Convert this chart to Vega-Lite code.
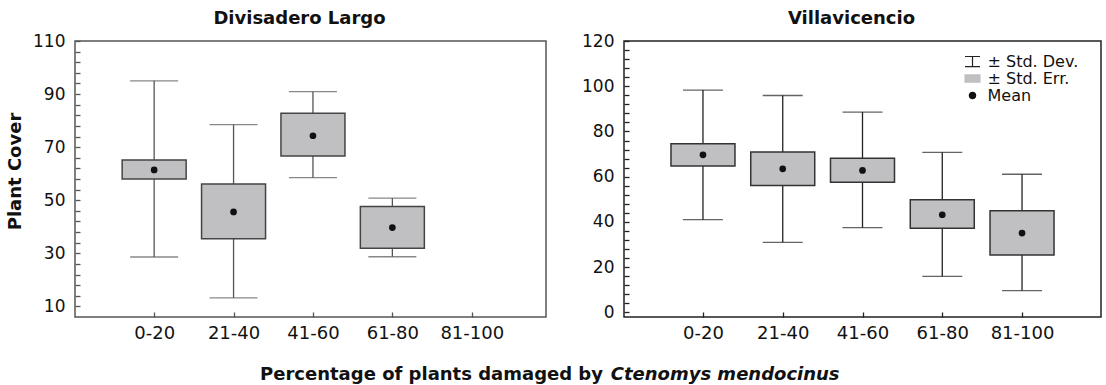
{
  "$schema": "https://vega.github.io/schema/vega-lite/v6.json",
  "background": "white",
  "padding": {"left": 5, "top": 9, "right": 2, "bottom": 2},
  "bounds": "flush",
  "spacing": 78,
  "config": {
    "font": "DejaVu Sans",
    "view": {"strokeWidth": 1.5},
    "axis": {"labelFont": "DejaVu Sans", "labelFontSize": 17, "labelColor": "#111", "titleFont": "DejaVu Sans", "titleColor": "#111", "grid": false, "domain": false, "ticks": true, "tickSize": 5, "offset": -5, "tickWidth": 1.3, "tickOpacity": 1, "labelFlush": false, "labelOverlap": false, "labelBound": false},
    "title": {"font": "DejaVu Sans", "fontSize": 18, "fontWeight": "bold", "color": "#111"}
  },
  "datasets": {
    "dl": [
      {"cat": "0-20", "sdlo": 28.6, "selo": 58.0, "mean": 61.4, "sehi": 65.2, "sdhi": 95.0},
      {"cat": "21-40", "sdlo": 13.2, "selo": 35.5, "mean": 45.6, "sehi": 56.1, "sdhi": 78.5},
      {"cat": "41-60", "sdlo": 58.5, "selo": 66.7, "mean": 74.3, "sehi": 82.8, "sdhi": 90.9},
      {"cat": "61-80", "sdlo": 28.7, "selo": 31.9, "mean": 39.7, "sehi": 47.6, "sdhi": 50.8}
    ],
    "vi": [
      {"cat": "0-20", "sdlo": 41.0, "selo": 64.7, "mean": 69.7, "sehi": 74.6, "sdhi": 98.3},
      {"cat": "21-40", "sdlo": 31.0, "selo": 56.1, "mean": 63.5, "sehi": 70.9, "sdhi": 95.9},
      {"cat": "41-60", "sdlo": 37.5, "selo": 57.6, "mean": 62.8, "sehi": 68.2, "sdhi": 88.6},
      {"cat": "61-80", "sdlo": 16.0, "selo": 37.2, "mean": 43.2, "sehi": 49.8, "sdhi": 70.8},
      {"cat": "81-100", "sdlo": 9.7, "selo": 25.4, "mean": 35.1, "sehi": 45.0, "sdhi": 61.1}
    ]
  },
  "resolve": {"scale": {"color": "independent", "x": "independent", "y": "independent"}, "legend": {"color": "independent"}},
  "hconcat": [
    {
      "width": 471,
      "height": 276,
      "title": {"text": "Divisadero Largo", "dx": -11},
      "view": {"stroke": "#555", "strokeWidth": 1.5},
      "data": {"name": "dl"},
      "encoding": {
        "x": {
          "field": "cat", "type": "ordinal",
          "scale": {"type": "point", "domain": ["0-20", "21-40", "41-60", "61-80", "81-100"], "padding": 0.966, "align": 0.516},
          "axis": {"labelAngle": 0, "labelFontSize": 18, "labelPadding": 7.5, "tickColor": "#555", "labelOverlap": false, "title": "Percentage of plants damaged by", "titleFontSize": 18, "titleFontWeight": "bold", "titleAlign": "right", "titleAnchor": "start", "titleX": 527.5, "titleY": 67.5, "titleBaseline": "alphabetic"}
        }
      },
      "layer": [
        {
          "mark": {"type": "rule", "strokeWidth": 1.3},
          "encoding": {
            "y": {"field": "sdlo", "type": "quantitative",
              "scale": {"domain": [6, 110], "nice": false, "zero": false},
              "axis": {"values": [10, 14, 18, 22, 26, 30, 34, 38, 42, 46, 50, 54, 58, 62, 66, 70, 74, 78, 82, 86, 90, 94, 98, 102, 106, 110], "tickCount": 200, "format": "d", "labelExpr": "(datum.value - 10) % 20 === 0 ? datum.label : ''", "labelFontSize": {"condition": {"test": "(datum.value - 10) % 20 === 0", "value": 17}, "value": 0}, "labelOverlap": false, "labelPadding": 10, "tickColor": "#555", "title": "Plant Cover", "titleFontSize": 18, "titleFontWeight": "bold", "titleX": -64.5, "titleY": 130, "titleBaseline": "middle", "titleAnchor": "start", "titleAlign": "center"}},
            "y2": {"field": "sdhi"},
            "color": {"datum": "± Std. Dev.", "legend": null, "scale": {"domain": ["± Std. Dev.", "± Std. Err.", "Mean"], "range": ["#555", "#c0c0c2", "#111"]}}
          }
        },
        {
          "mark": {"type": "tick", "size": 48, "thickness": 1.3, "color": "#555"},
          "encoding": {"y": {"field": "sdhi", "type": "quantitative"}}
        },
        {
          "mark": {"type": "tick", "size": 48, "thickness": 1.3, "color": "#555"},
          "encoding": {"y": {"field": "sdlo", "type": "quantitative"}}
        },
        {
          "mark": {"type": "bar", "size": 64, "stroke": "#444", "strokeWidth": 1.5},
          "encoding": {
            "y": {"field": "selo", "type": "quantitative"},
            "y2": {"field": "sehi"},
            "color": {"datum": "± Std. Err.", "legend": null}
          }
        },
        {
          "mark": {"type": "point", "filled": true, "size": 45, "opacity": 1},
          "encoding": {
            "y": {"field": "mean", "type": "quantitative"},
            "color": {"datum": "Mean", "legend": null}
          }
        }
      ]
    },
    {
      "width": 477,
      "height": 276,
      "title": {"text": "Villavicencio", "dx": -11},
      "view": {"stroke": "#222", "strokeWidth": 1.5},
      "data": {"name": "vi"},
      "encoding": {
        "x": {
          "field": "cat", "type": "ordinal",
          "scale": {"type": "point", "domain": ["0-20", "21-40", "41-60", "61-80", "81-100"], "padding": 0.99},
          "axis": {"labelAngle": 0, "labelFontSize": 18, "labelPadding": 7.5, "tickColor": "#222", "labelOverlap": false, "title": "Ctenomys mendocinus", "titleFontSize": 18, "titleFontWeight": "bold", "titleFontStyle": "italic", "titleAlign": "left", "titleAnchor": "start", "titleX": -13.8, "titleY": 67.5, "titleBaseline": "alphabetic"}
        }
      },
      "layer": [
        {
          "mark": {"type": "rule", "strokeWidth": 1.3},
          "encoding": {
            "y": {"field": "sdlo", "type": "quantitative",
              "scale": {"domain": [-2, 120], "nice": false, "zero": false},
              "axis": {"values": [0, 4, 8, 12, 16, 20, 24, 28, 32, 36, 40, 44, 48, 52, 56, 60, 64, 68, 72, 76, 80, 84, 88, 92, 96, 100, 104, 108, 112, 116, 120], "tickCount": 200, "format": "d", "labelExpr": "datum.value % 20 === 0 ? datum.label : ''", "labelFontSize": {"condition": {"test": "datum.value % 20 === 0", "value": 17}, "value": 0}, "labelOverlap": false, "labelPadding": 10, "tickColor": "#222", "title": null}},
            "y2": {"field": "sdhi"},
            "color": {"datum": "± Std. Dev.",
              "scale": {"domain": ["± Std. Dev.", "± Std. Err.", "Mean"], "range": ["#222", "#c0c0c2", "#111"]},
              "legend": {
                "orient": "none", "legendX": 340, "legendY": 12, "title": null, "padding": 0,
                "labelFont": "DejaVu Sans", "labelFontSize": 16, "labelColor": "#111", "labelOffset": 6.5,
                "rowPadding": -3, "symbolSize": 225,
                "encode": {
                  "symbols": {
                    "update": {
                      "shape": {"signal": "datum.value === 'Mean' ? 'circle' : datum.value === '± Std. Err.' ? 'M-1,-0.48H1V0.48H-1Z' : 'M-1,-0.67H1M0,-0.67V0.67M-1,0.67H1'"},
                      "size": {"signal": "datum.value === 'Mean' ? 40 : 225"},
                      "fill": {"signal": "datum.value === 'Mean' ? '#111' : datum.value === '± Std. Err.' ? '#c0c0c2' : 'transparent'"},
                      "stroke": {"signal": "datum.value === 'Mean' ? '#111' : '#222'"},
                      "strokeWidth": {"value": 1.2},
                      "opacity": {"value": 1}
                    }
                  }
                }
              }
            }
          }
        },
        {
          "mark": {"type": "tick", "size": 40, "thickness": 1.3, "color": "#222"},
          "encoding": {"y": {"field": "sdhi", "type": "quantitative"}}
        },
        {
          "mark": {"type": "tick", "size": 40, "thickness": 1.3, "color": "#222"},
          "encoding": {"y": {"field": "sdlo", "type": "quantitative"}}
        },
        {
          "mark": {"type": "bar", "size": 64, "stroke": "#333", "strokeWidth": 1.5},
          "encoding": {
            "y": {"field": "selo", "type": "quantitative"},
            "y2": {"field": "sehi"},
            "color": {"datum": "± Std. Err."}
          }
        },
        {
          "mark": {"type": "point", "filled": true, "size": 45, "opacity": 1},
          "encoding": {
            "y": {"field": "mean", "type": "quantitative"},
            "color": {"datum": "Mean"}
          }
        }
      ]
    }
  ]
}
